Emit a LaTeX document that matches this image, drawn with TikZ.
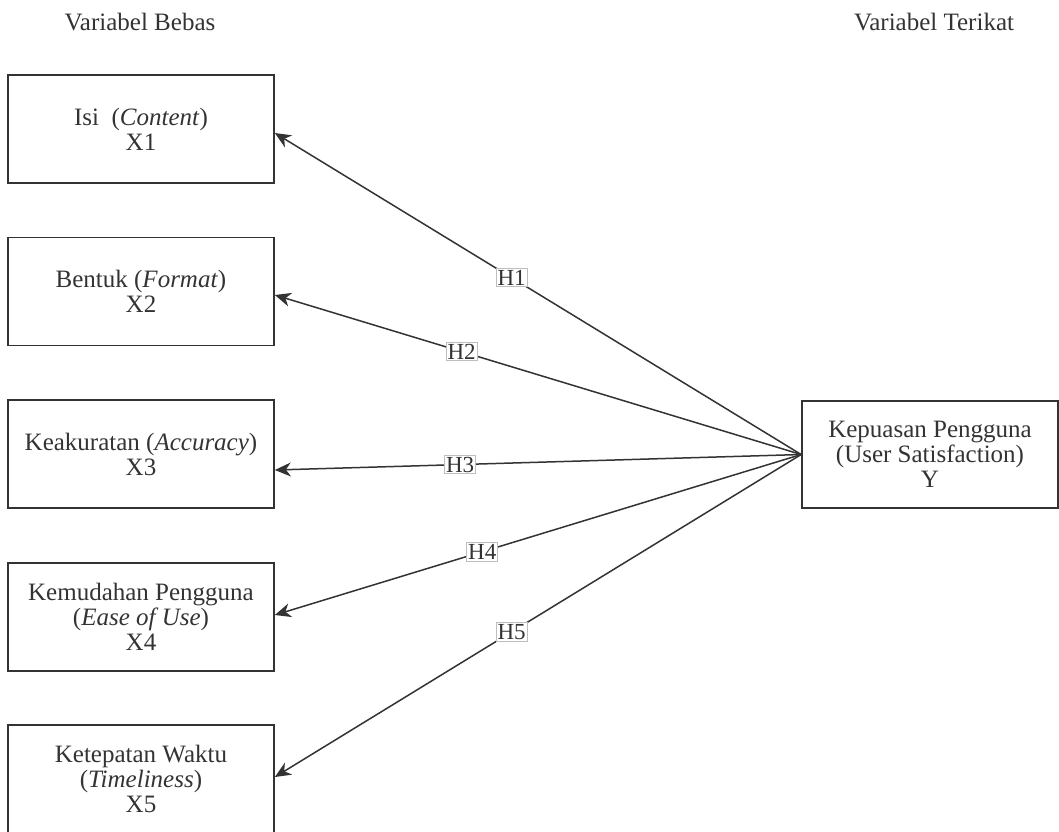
\documentclass[tikz,border=0pt]{standalone}
\usepackage{fontspec}
\setmainfont{Liberation Serif}
\usetikzlibrary{arrows.meta}
\definecolor{ink}{RGB}{51,51,51}
\definecolor{labelline}{RGB}{190,190,190}
\tikzset{
  var/.style= {draw=ink, line width=0.85pt, minimum width=133pt, minimum height=54pt,
    align=center, text=ink, font=\fontsize{12.5}{12.5}\selectfont},
  title/.style= {text=ink, font=\fontsize{12.5}{12.5}\selectfont},
  link/.style= {draw=ink, line width=0.75pt, -{Stealth[length=8pt, width=7pt, inset=2.5pt]}},
  hyp/.style= {draw=labelline, fill=white, line width=0.4pt, inner sep=0.8pt,
    text=ink, font=\fontsize{11.5}{11.5}\selectfont},
}
\begin{document}
\begin{tikzpicture}[x=0.5pt, y=-0.5pt]
  \useasboundingbox (0,0) rectangle (1059,831);

  \node [title] (bebas) at (140,22) {Variabel Bebas} ;
  \node [title] (terikat) at (934,22) {Variabel Terikat} ;

  \node [var] (x1) at (141,129) {Isi\ \ (\textit{Content})\\X1} ;
  \node [var] (x2) at (141,291.5) {Bentuk (\textit{Format})\\X2} ;
  \node [var] (x3) at (141,454) {Keakuratan (\textit{Accuracy})\\X3} ;
  \node [var] (x4) at (141,617) {Kemudahan Pengguna\\(\textit{Ease of Use})\\X4} ;
  \node [var] (x5) at (141,779) {Ketepatan Waktu\\(\textit{Timeliness})\\X5} ;
  \node [var, minimum width=128pt, minimum height=53.5pt] (y) at (930,454.5)
    {Kepuasan Pengguna\\(User Satisfaction)\\Y} ;

  \draw [link] (y.west) -- node [hyp, pos=0.55] {H1} ([yshift=-2pt]x1.east) ;
  \draw [link] (y.west) -- node [hyp, pos=0.645] {H2} ([yshift=-1.75pt]x2.east) ;
  \draw [link] (y.west) -- node [hyp, pos=0.648] {H3} ([yshift=-8pt]x3.east) ;
  \draw [link] (y.west) -- node [hyp, pos=0.606] {H4} ([yshift=1pt]x4.east) ;
  \draw [link] (y.west) -- node [hyp, pos=0.55] {H5} ([yshift=1pt]x5.east) ;
\end{tikzpicture}
\end{document}
